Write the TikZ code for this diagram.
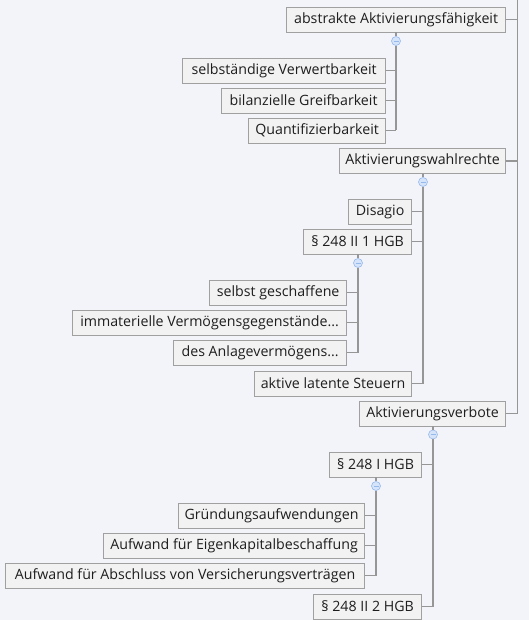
\documentclass[tikz,border=0pt]{standalone}
\usepackage{fontspec}
\setmainfont{Open Sans}
\usetikzlibrary{positioning}
\definecolor{bgcolor}{RGB}{243,244,249}
\definecolor{boxcolor}{RGB}{242,242,242}
\definecolor{boxline}{RGB}{160,160,160}
\definecolor{linkcolor}{RGB}{150,150,150}
\definecolor{foldfill}{RGB}{214,228,250}
\definecolor{foldline}{RGB}{150,185,235}
\definecolor{textcolor}{RGB}{30,30,30}
\tikzset{
  topic/.style={
    rectangle,
    draw=boxline,
    fill=boxcolor,
    text=textcolor,
    line width=0.8pt,
    minimum height=25pt,
    inner xsep=3pt,
    inner ysep=0pt,
    anchor=east,
    font=\fontsize{14.2}{16}\selectfont
  },
  fold/.style={
    circle,
    draw=foldline,
    fill=foldfill,
    line width=0.6pt,
    minimum size=9pt,
    inner sep=0pt,
    path picture={
      \draw[foldline, line width=0.8pt]
        ([xshift=2pt]path picture bounding box.west) --
        ([xshift=-2pt]path picture bounding box.east);
    }
  },
  link/.style={
    line width=1.2pt,
    color=linkcolor
  }
}

\begin{document}
\begin{tikzpicture}[x=1pt, y=-1pt]

  % Background
  \fill[bgcolor] (0,0) rectangle (529,620);
  \useasboundingbox (0,0) rectangle (529,620);

  % Main topics
  \coordinate (root) at (517.5,0);
  \node[topic, minimum width=219pt] (abs) at (506,19.5) {abstrakte Aktivierungsfähigkeit};
  \node[topic, minimum width=166pt] (wahl) at (506,161) {Aktivierungswahlrechte};
  \node[topic, minimum width=146pt] (verb) at (506,413.5) {Aktivierungsverbote};

  % Abstrakte Aktivierungsfaehigkeit
  \node[topic, minimum width=203pt] (selb) at (386,70.5) {selbständige Verwertbarkeit};
  \node[topic, minimum width=164pt] (bil) at (386,100.5) {bilanzielle Greifbarkeit};
  \node[topic, minimum width=137pt] (quant) at (386,130.5) {Quantifizierbarkeit};
  \node[fold] (absfold) at (396,41) {};

  % Aktivierungswahlrechte
  \node[topic, minimum width=63pt] (dis) at (412,211.5) {Disagio};
  \node[topic, minimum width=108pt] (wahlII) at (412,241.5) {§ 248 II 1 HGB};
  \node[topic, minimum width=157pt] (steuer) at (412,383.5) {aktive latente Steuern};
  \node[fold] (wahlfold) at (423,182) {};

  % Paragraph 248 II 1 HGB
  \node[topic, minimum width=137pt] (selbst) at (347,292.5) {selbst geschaffene};
  \node[topic, minimum width=274pt] (immat) at (347,322.5) {immaterielle Vermögensgegenstände...};
  \node[topic, minimum width=173pt] (anlage) at (347,352.5) {des Anlagevermögens...};
  \node[fold] (wahlIIfold) at (358,263) {};

  % Aktivierungsverbote
  \node[topic, minimum width=92pt] (verbI) at (422,464.5) {§ 248 I HGB};
  \node[topic, minimum width=108pt] (verbII) at (422,606.5) {§ 248 II 2 HGB};
  \node[fold] (verbfold) at (433,434.5) {};

  % Paragraph 248 I HGB
  \node[topic, minimum width=186pt] (grund) at (365,515.5) {Gründungsaufwendungen};
  \node[topic, minimum width=261pt] (eigen) at (365,545.5) {Aufwand für Eigenkapitalbeschaffung};
  \node[topic, minimum width=359pt] (absch) at (365,575.5) {Aufwand für Abschluss von Versicherungsverträgen};
  \node[fold] (verbIfold) at (376,486) {};

  % Root connectors
  \draw[link] (root) -- (root |- verb.east);
  \draw[link] (abs.east) -- (abs.east -| root);
  \draw[link] (wahl.east) -- (wahl.east -| root);
  \draw[link] (verb.east) -- (verb.east -| root);

  % Branch connectors
  \draw[link] (absfold.north |- abs.south) -- (absfold.north);
  \draw[link] (absfold.south) -- (absfold |- quant.east);
  \draw[link] (selb.east) -- (selb.east -| absfold);
  \draw[link] (bil.east) -- (bil.east -| absfold);
  \draw[link] (quant.east) -- (quant.east -| absfold);

  \draw[link] (wahlfold.north |- wahl.south) -- (wahlfold.north);
  \draw[link] (wahlfold.south) -- (wahlfold |- steuer.east);
  \draw[link] (dis.east) -- (dis.east -| wahlfold);
  \draw[link] (wahlII.east) -- (wahlII.east -| wahlfold);
  \draw[link] (steuer.east) -- (steuer.east -| wahlfold);

  \draw[link] (wahlIIfold.north |- wahlII.south) -- (wahlIIfold.north);
  \draw[link] (wahlIIfold.south) -- (wahlIIfold |- anlage.east);
  \draw[link] (selbst.east) -- (selbst.east -| wahlIIfold);
  \draw[link] (immat.east) -- (immat.east -| wahlIIfold);
  \draw[link] (anlage.east) -- (anlage.east -| wahlIIfold);

  \draw[link] (verbfold.north |- verb.south) -- (verbfold.north);
  \draw[link] (verbfold.south) -- (verbfold |- verbII.east);
  \draw[link] (verbI.east) -- (verbI.east -| verbfold);
  \draw[link] (verbII.east) -- (verbII.east -| verbfold);

  \draw[link] (verbIfold.north |- verbI.south) -- (verbIfold.north);
  \draw[link] (verbIfold.south) -- (verbIfold |- absch.east);
  \draw[link] (grund.east) -- (grund.east -| verbIfold);
  \draw[link] (eigen.east) -- (eigen.east -| verbIfold);
  \draw[link] (absch.east) -- (absch.east -| verbIfold);

\end{tikzpicture}
\end{document}
